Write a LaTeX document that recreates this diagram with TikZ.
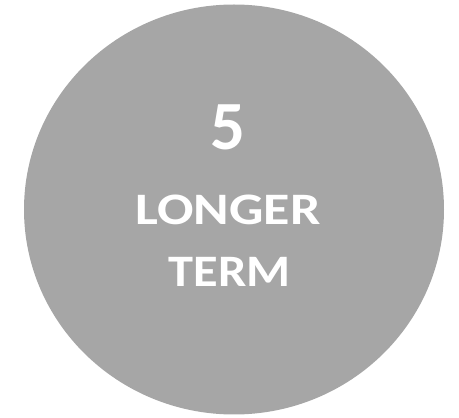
\documentclass[tikz,border=0pt]{standalone}
\usepackage{fontspec}
\setmainfont{Carlito}
\definecolor{circgray}{HTML}{A6A6A6}
\tikzset{lbl/.style={text=white, anchor=base, inner sep=0pt}}
\newcommand{\wordfont}{\bfseries\fontsize{45}{48}\selectfont}
\begin{document}
\begin{tikzpicture}[x=1pt,y=1pt]
\useasboundingbox (0,0) rectangle (459,418);
\fill[circgray] (234,208.5) ellipse [x radius=210, y radius=205];
\node[lbl, font=\bfseries\fontsize{69}{72}\selectfont] (num) at (228,268) {5};
\node[lbl, font=\wordfont] (l1) at (228,193) {\scalebox{1.2}[1]{LONGER}};
\node[lbl, font=\wordfont] (l2) at (229.5,131) {\scalebox{1.12}[1]{TERM}};
\end{tikzpicture}
\end{document}
